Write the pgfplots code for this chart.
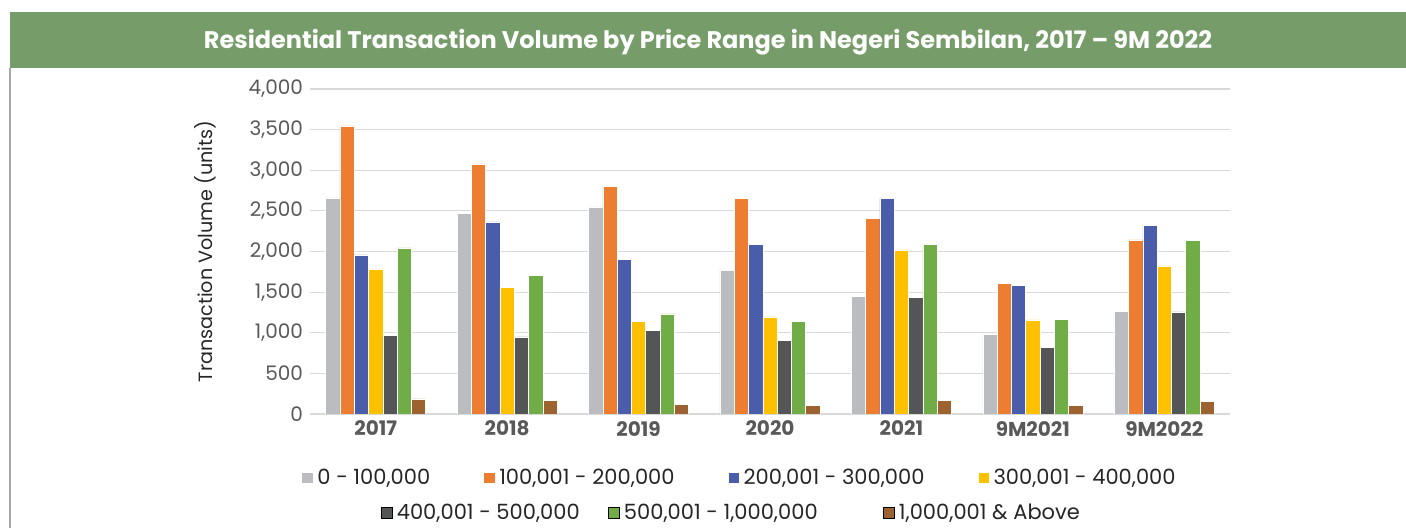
\documentclass[border=0pt]{standalone}
\usepackage{fontspec}
\setmainfont{Poppins}
\usepackage{pgfplots}
\pgfplotsset{compat=1.18}
\definecolor{titlegreen}{HTML}{769D69}
\definecolor{bordergray}{HTML}{A6A6A6}
\definecolor{gridgray}{HTML}{D9D9D9}
\definecolor{txtgray}{HTML}{595959}
\definecolor{legtxt}{HTML}{262626}
\definecolor{cA}{HTML}{BBBCC0}
\definecolor{cB}{HTML}{ED7D31}
\definecolor{cC}{HTML}{4A5DAA}
\definecolor{cD}{HTML}{FFC000}
\definecolor{cE}{HTML}{545557}
\definecolor{cF}{HTML}{70AD47}
\definecolor{cG}{HTML}{9C6331}
\begin{document}
\begin{tikzpicture}
\path (0pt,0pt) rectangle (703pt,264pt);
\fill[titlegreen] (5pt,230pt) rectangle (703pt,258pt);
\draw[bordergray, line width=0.6pt] (5pt,0pt) -- (5pt,230pt);
\node[white, font=\bfseries\fontsize{12}{14}\selectfont] at (354pt,243pt) {Residential Transaction Volume by Price Range in Negeri Sembilan, 2017 – 9M 2022};
\pgfplotsset{
  legimg/.style={legend image code/.code={\fill[##1] (0pt,-2.85pt) rectangle (5.7pt,2.85pt);}},
}
\begin{axis}[
  at={(155pt,57pt)}, anchor=south west, scale only axis,
  width=460pt, height=162.5pt,
  xmin=-0.5, xmax=6.5, ymin=0, ymax=4000,
  ytick distance=500,
  xtick=data,
  xticklabels={2017,2018,2019,2020,2021,9M2021,9M2022},
  ybar=0pt, bar width=7.15pt,
  axis line style={draw=none},
  major tick length=0pt,
  ymajorgrids, grid style={gridgray, line width=0.6pt},
  /pgf/number format/assume math mode=true,
  /pgf/number format/1000 sep={,},
  yticklabel style={font=\fontsize{10}{11}\selectfont, text=txtgray},
  xticklabel style={font=\bfseries\fontsize{10}{11}\selectfont, text=txtgray},
  ylabel={Transaction Volume (units)},
  every axis y label/.style={at={(axis description cs:-0.114,0.5)}, rotate=90, anchor=center, font=\fontsize{9.6}{11}\selectfont, text=legtxt},
  legend columns=4,
  legend style={draw=none, at={(axis description cs:0.468,-0.197)}, anchor=center, font=\fontsize{10.5}{12}\selectfont, text=legtxt, /tikz/every even column/.append style={column sep=24.5pt}, inner sep=0pt},
  legimg,
  legend cell align=left,
]
\addplot[fill=cA, draw=white, line width=0.3pt] coordinates {(0,2659) (1,2466) (2,2548) (3,1769) (4,1449) (5,985) (6,1264)};
\addlegendentry{0 - 100,000}
\addplot[fill=cB, draw=white, line width=0.3pt] coordinates {(0,3545) (1,3077) (2,2803) (3,2655) (4,2404) (5,1609) (6,2142)};
\addlegendentry{100,001 - 200,000}
\addplot[fill=cC, draw=white, line width=0.3pt] coordinates {(0,1957) (1,2363) (2,1904) (3,2084) (4,2655) (5,1584) (6,2323)};
\addlegendentry{200,001 - 300,000}
\addplot[fill=cD, draw=white, line width=0.3pt] coordinates {(0,1785) (1,1560) (2,1141) (3,1194) (4,2019) (5,1157) (6,1822)};
\addlegendentry{300,001 - 400,000}
\addplot[fill=cE, draw=white, line width=0.3pt] coordinates {(0,972) (1,948) (2,1030) (3,902) (4,1432) (5,821) (6,1256)};
\addplot[fill=cF, draw=white, line width=0.3pt] coordinates {(0,2043) (1,1703) (2,1231) (3,1141) (4,2089) (5,1166) (6,2138)};
\addplot[fill=cG, draw=white, line width=0.3pt] coordinates {(0,185) (1,172) (2,123) (3,107) (4,172) (5,102) (6,156)};
\end{axis}
\begin{axis}[
  at={(155pt,57pt)}, anchor=south west, scale only axis,
  width=460pt, height=162.5pt,
  xmin=0, xmax=1, ymin=0, ymax=1, hide axis,
  legend columns=3,
  legend style={draw=none, at={(axis description cs:0.459,-0.305)}, anchor=center, font=\fontsize{10.5}{12}\selectfont, text=legtxt, /tikz/column 2/.style={column sep=12pt}, /tikz/column 4/.style={column sep=30.5pt}, inner sep=0pt},
  legimg,
  legend cell align=left,
]
\addlegendimage{fill=cE}
\addlegendentry{400,001 - 500,000}
\addlegendimage{fill=cF}
\addlegendentry{500,001 - 1,000,000}
\addlegendimage{fill=cG}
\addlegendentry{1,000,001 \& Above}
\end{axis}
\end{tikzpicture}
\end{document}
